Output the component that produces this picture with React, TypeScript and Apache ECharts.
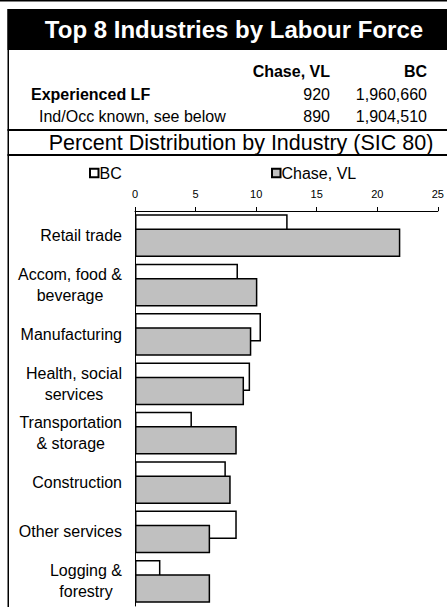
import React, { useEffect, useRef } from 'react';
import * as echarts from 'echarts';

const titleText = 'Top 8 Industries by Labour Force';
const subtitleText = 'Percent Distribution by Industry (SIC 80)';
const tableColumns = ['Chase, VL', 'BC'];
const tableRowLabels = ['Experienced LF', 'Ind/Occ known, see below'];
const tableChaseValues = ['920', '890'];
const tableBCValues = ['1,960,660', '1,904,510'];

const seriesNames = ['BC', 'Chase, VL'];
const categories = [
  'Retail trade',
  'Accom, food &\nbeverage',
  'Manufacturing',
  'Health, social\nservices',
  'Transportation\n& storage',
  'Construction',
  'Other services',
  'Logging &\nforestry',
];
const bcValues = [12.6, 8.5, 10.4, 9.5, 4.7, 7.5, 8.4, 2.1];
const chaseValues = [21.9, 10.1, 9.6, 9.0, 8.4, 7.9, 6.2, 6.2];
const axisMin = 0;
const axisMax = 25;
const axisInterval = 5;

const FONT = '"Liberation Sans", Arial, sans-serif';

export default function App() {
  const ref = useRef<HTMLDivElement>(null);
  useEffect(() => {
    if (!ref.current) return;
    const chart = echarts.init(ref.current, undefined, { renderer: 'svg' });
    const txt = (text: string, x: number, y: number, opts: any = {}) => ({
      type: 'text',
      x,
      y,
      silent: true,
      style: {
        text,
        fontFamily: FONT,
        fontSize: 16,
        fill: '#000',
        align: 'left',
        verticalAlign: 'middle',
        ...opts,
      },
    });
    const graphic: any[] = [
      { type: 'rect', shape: { x: 0, y: 0, width: 447, height: 1.5 }, style: { fill: '#000' }, silent: true },
      { type: 'rect', shape: { x: 7.5, y: 9, width: 440, height: 41 }, style: { fill: '#000' }, silent: true },
      { type: 'rect', shape: { x: 7.5, y: 9, width: 1.5, height: 600 }, style: { fill: '#000' }, silent: true },
      txt(titleText, 234, 29.5, { fill: '#fff', fontSize: 24, fontWeight: 'bold', align: 'center' }),
      txt(tableColumns[0], 330, 71, { fontWeight: 'bold', align: 'right' }),
      txt(tableColumns[1], 427, 71, { fontWeight: 'bold', align: 'right' }),
      txt(tableRowLabels[0], 31, 94, { fontWeight: 'bold' }),
      txt(tableChaseValues[0], 330, 94, { align: 'right' }),
      txt(tableBCValues[0], 427, 94, { align: 'right' }),
      txt(tableRowLabels[1], 39, 116),
      txt(tableChaseValues[1], 330, 116, { align: 'right' }),
      txt(tableBCValues[1], 427, 116, { align: 'right' }),
      { type: 'rect', shape: { x: 7.5, y: 129, width: 440, height: 2 }, style: { fill: '#000' }, silent: true },
      txt(subtitleText, 241, 143, { fontSize: 21.5, align: 'center' }),
      { type: 'rect', shape: { x: 7.5, y: 154, width: 440, height: 2 }, style: { fill: '#000' }, silent: true },
    ];
    const legendBase = {
      top: 165,
      padding: 0,
      itemWidth: 8.5,
      itemHeight: 8.5,
      icon: 'rect',
      selectedMode: false,
      textStyle: { fontFamily: FONT, fontSize: 16, color: '#000', padding: [0, 0, 0, -4] },
    };
    chart.setOption({
      animation: false,
      backgroundColor: '#fff',
      textStyle: { fontFamily: FONT },
      graphic,
      legend: [
        { ...legendBase, left: 89, data: [seriesNames[0]] },
        { ...legendBase, left: 271, data: [seriesNames[1]] },
      ],
      grid: { left: 135, right: 8.5, top: 211, bottom: 1, containLabel: false },
      xAxis: {
        type: 'value',
        position: 'top',
        min: axisMin,
        max: axisMax,
        interval: axisInterval,
        splitLine: { show: false },
        axisLine: { show: true, lineStyle: { color: '#000', width: 1 } },
        axisTick: { show: true, inside: false, length: 4, lineStyle: { color: '#000' } },
        axisLabel: { fontFamily: FONT, fontSize: 11, color: '#000', margin: 12 },
      },
      yAxis: {
        type: 'category',
        data: categories,
        inverse: true,
        axisLine: { show: true, lineStyle: { color: '#000', width: 1 } },
        axisTick: { show: false },
        axisLabel: {
          margin: 13,
          fontFamily: FONT,
          fontSize: 16,
          color: '#000',
          lineHeight: 21,
          formatter: (v: string) => v.split('\n').map((l) => `{c|${l}}`).join('\n'),
          rich: { c: { align: 'center', fontFamily: FONT, fontSize: 16, lineHeight: 21, color: '#000' } },
        },
      },
      series: [
        {
          name: seriesNames[0],
          type: 'bar',
          data: bcValues,
          barWidth: 28.5,
          barGap: '-50%',
          itemStyle: { color: '#ffffff', borderColor: '#000', borderWidth: 1.5 },
        },
        {
          name: seriesNames[1],
          type: 'bar',
          data: chaseValues,
          barWidth: 28.5,
          barGap: '-50%',
          itemStyle: { color: '#c0c0c0', borderColor: '#000', borderWidth: 1.5 },
        },
      ],
    });
    return () => chart.dispose();
  }, []);
  return <div ref={ref} style={{ position: 'absolute', left: 0, top: 0, width: 447, height: 607 }} />;
}
